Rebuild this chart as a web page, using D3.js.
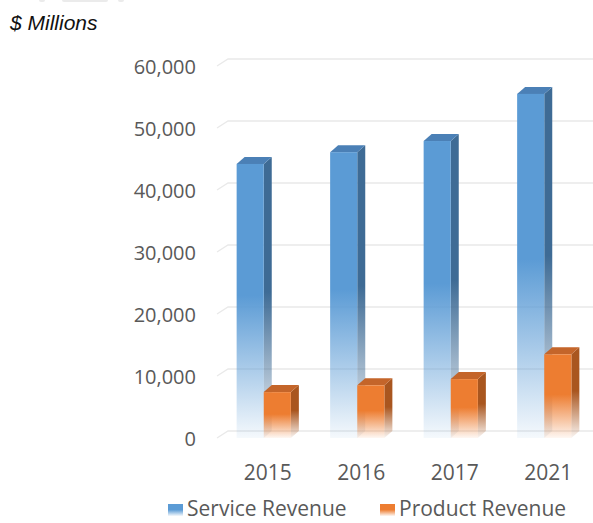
<!DOCTYPE html>
<html>
<head>
<meta charset="utf-8">
<script src="https://cdn.jsdelivr.net/npm/d3@7"></script>
<style>
  html, body { margin: 0; padding: 0; background: #fff; }
  svg { display: block; }
</style>
</head>
<body>
<div id="chart"></div>
<script>
var categories = ['2015', '2016', '2017', '2021'];
var seriesNames = ['Service Revenue', 'Product Revenue'];
var serviceRevenue = [44200, 46100, 47900, 55500];
var productRevenue = [7400, 8500, 9500, 13500];
var yTicks = [0, 10000, 20000, 30000, 40000, 50000, 60000];

var colors = {
  'Service Revenue': { front: '#5b9bd5', side: '#3e6b95', top: '#4b80b6' },
  'Product Revenue': { front: '#ed7d31', side: '#a9561f', top: '#c4652a' }
};

var width = 593, height = 523;

var svg = d3.select('#chart')
  .append('svg')
    .attr('width', width)
    .attr('height', height);

var defs = svg.append('defs');

// fading gradients (solid at top, washed out toward the floor)
function fade(id, color) {
  var g = defs.append('linearGradient')
      .attr('id', id)
      .attr('x1', 0).attr('y1', 0)
      .attr('x2', 0).attr('y2', 1);
  g.append('stop').attr('offset', '0').attr('stop-color', color).attr('stop-opacity', 1);
  g.append('stop').attr('offset', '0.48').attr('stop-color', color).attr('stop-opacity', 1);
  g.append('stop').attr('offset', '1').attr('stop-color', color).attr('stop-opacity', 0.06);
}
seriesNames.forEach(function (s, i) {
  fade('front' + i, colors[s].front);
  fade('side' + i, colors[s].side);
});

var y = d3.scaleLinear()
  .domain([0, 60000])
  .range([438, 66]);

var x = d3.scaleBand()
  .domain(categories)
  .range([217, 591])
  .paddingInner(0.42)
  .paddingOuter(0.21);

var xs = d3.scaleBand()
  .domain(seriesNames)
  .range([0, x.bandwidth()]);

var wall = { dx: 11, dy: -7 };
var depth = { dx: 8, dy: -7 };

// faint cut-off bits at the very top
svg.append('g').selectAll('rect')
    .data([[39, 6], [62, 46], [118, 6]])
    .enter()
  .append('rect')
    .attr('x', function (d) { return d[0]; })
    .attr('y', -3)
    .attr('width', function (d) { return d[1]; })
    .attr('height', 5)
    .attr('rx', 2)
    .attr('fill', '#ebebeb');

svg.append('text')
    .attr('x', 10)
    .attr('y', 30)
    .attr('font-family', 'Liberation Sans, Arial, sans-serif')
    .attr('font-style', 'italic')
    .attr('font-size', 21)
    .attr('fill', '#111')
    .text('$ Millions');

// gridlines on the back wall with the short side-wall segment
svg.append('g').selectAll('path')
    .data(yTicks)
    .enter()
  .append('path')
    .attr('d', function (d) {
      var yf = y(d), yb = y(d) + wall.dy;
      return 'M217,' + yf + 'L' + (217 + wall.dx) + ',' + yb + 'L' + width + ',' + yb;
    })
    .attr('fill', 'none')
    .attr('stroke', '#e9e9e9')
    .attr('stroke-width', 1.3);

svg.append('g').selectAll('text')
    .data(yTicks)
    .enter()
  .append('text')
    .attr('x', 196)
    .attr('y', function (d) { return y(d) + 1; })
    .attr('dy', '0.36em')
    .attr('text-anchor', 'end')
    .attr('font-family', 'Open Sans, sans-serif')
    .attr('font-size', 20)
    .attr('fill', '#595959')
    .text(d3.format(','));

// bars
var bars = [];
categories.forEach(function (c, i) {
  bars.push({ cat: c, series: seriesNames[0], si: 0, value: serviceRevenue[i] });
  bars.push({ cat: c, series: seriesNames[1], si: 1, value: productRevenue[i] });
});

var bar = svg.append('g').selectAll('g')
    .data(bars)
    .enter()
  .append('g');

bar.append('path')
    .attr('d', function (d) {
      var x0 = x(d.cat) + xs(d.series) + xs.bandwidth(), yt = y(d.value), yb = y(0);
      return 'M' + x0 + ',' + yt +
        'L' + (x0 + depth.dx) + ',' + (yt + depth.dy) +
        'L' + (x0 + depth.dx) + ',' + (yb + depth.dy) +
        'L' + x0 + ',' + yb + 'Z';
    })
    .attr('fill', function (d) { return 'url(#side' + d.si + ')'; });

bar.append('path')
    .attr('d', function (d) {
      var x0 = x(d.cat) + xs(d.series), w = xs.bandwidth(), yt = y(d.value);
      return 'M' + x0 + ',' + yt +
        'L' + (x0 + depth.dx) + ',' + (yt + depth.dy) +
        'L' + (x0 + w + depth.dx) + ',' + (yt + depth.dy) +
        'L' + (x0 + w) + ',' + yt + 'Z';
    })
    .attr('fill', function (d) { return colors[d.series].top; });

bar.append('rect')
    .attr('x', function (d) { return x(d.cat) + xs(d.series); })
    .attr('y', function (d) { return y(d.value); })
    .attr('width', xs.bandwidth())
    .attr('height', function (d) { return y(0) - y(d.value); })
    .attr('fill', function (d) { return 'url(#front' + d.si + ')'; });

svg.append('g').selectAll('text')
    .data(categories)
    .enter()
  .append('text')
    .attr('x', function (d) { return x(d) + x.bandwidth() / 2 + 4; })
    .attr('y', 480)
    .attr('text-anchor', 'middle')
    .attr('font-family', 'Open Sans, sans-serif')
    .attr('font-size', 21)
    .attr('fill', '#595959')
    .text(function (d) { return d; });

// legend
var legend = svg.append('g').selectAll('g')
    .data(seriesNames)
    .enter()
  .append('g')
    .attr('transform', function (d, i) { return 'translate(' + (168 + i * 212) + ',504)'; });

legend.append('rect')
    .attr('width', 15)
    .attr('height', 12)
    .attr('fill', function (d, i) { return 'url(#front' + i + ')'; });

legend.append('text')
    .attr('x', 19)
    .attr('y', 12)
    .attr('font-family', 'Open Sans, sans-serif')
    .attr('font-size', 21)
    .attr('fill', '#595959')
    .text(function (d) { return d; });
</script>
</body>
</html>
